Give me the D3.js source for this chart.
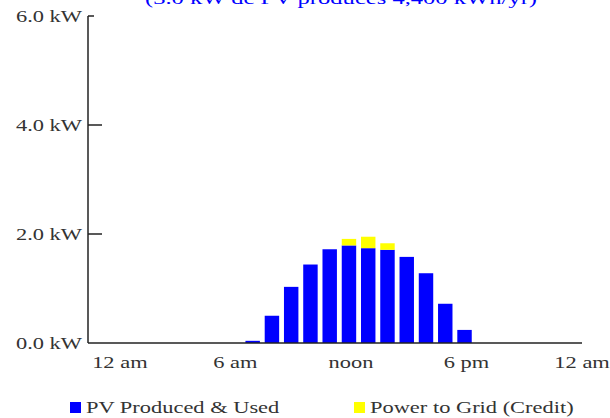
<!DOCTYPE html>
<html>
<head>
<meta charset="utf-8">
<script src="https://cdn.jsdelivr.net/npm/d3@7"></script>
<style>
    html, body { margin: 0; padding: 0; background: #fff; }
    svg { display: block; }
</style>
</head>
<body>
<div id="chart"></div>
<script>
// Hourly PV output, summer day

const hours = [7, 8, 9, 10, 11, 12, 13, 14, 15, 16, 17, 18];
const pvUsed = [0.04, 0.50, 1.03, 1.44, 1.72, 1.79, 1.74, 1.71, 1.58, 1.28, 0.72, 0.24];
const toGrid = [0, 0, 0, 0, 0, 0.12, 0.21, 0.12, 0, 0, 0, 0];

const yTicks = [0, 2, 4, 6];
const yTickLabels = ['0.0 kW', '2.0 kW', '4.0 kW', '6.0 kW'];
const xTicks = [0, 6, 12, 18, 24];
const xTickLabels = ['12 am', '6 am', 'noon', '6 pm', '12 am'];

const seriesNames = ['PV Produced & Used', 'Power to Grid (Credit)'];
const seriesColors = ['#0000ff', '#ffff00'];

const titleText = '(3.0 kW dc PV produces 4,400 kWh/yr)';

const width = 610;
const height = 418;
const stretch = 1.32; // the original text is drawn wide
const FONT = '"Liberation Serif", "Times New Roman", "DejaVu Serif", serif';

const svg = d3.select('#chart')
    .append('svg')
    .attr('width', width)
    .attr('height', height)
    .attr('font-family', FONT);

const x = d3.scaleLinear().domain([-1.55, 24.1]).range([88, 582]);
const y = d3.scaleLinear().domain([0, 6]).range([343, 16]);

const barW = x(0.75) - x(0);

// Title, mostly clipped off the top of the picture
svg.append('text')
    .attr('x', 145)
    .attr('y', 4)
    .attr('textLength', 392)
    .attr('lengthAdjust', 'spacingAndGlyphs')
    .attr('font-family', FONT)
    .attr('font-size', '17px')
    .attr('fill', '#0000ff')
    .text(titleText);

// Bars
const bars = svg.append('g');
bars.selectAll('rect.used')
    .data(hours)
    .join('rect')
    .attr('class', 'used')
    .attr('x', (d) => x(d) - barW / 2)
    .attr('width', barW)
    .attr('y', (d, i) => y(pvUsed[i]))
    .attr('height', (d, i) => y(0) - y(pvUsed[i]))
    .attr('fill', seriesColors[0]);

bars.selectAll('rect.grid')
    .data(hours.filter((d, i) => toGrid[i] > 0))
    .join('rect')
    .attr('class', 'grid')
    .attr('x', (d) => x(d) - barW / 2)
    .attr('width', barW)
    .attr('y', (d) => {
        const i = hours.indexOf(d);
        return y(pvUsed[i] + toGrid[i]);
    })
    .attr('height', (d) => {
        const i = hours.indexOf(d);
        return y(pvUsed[i]) - y(pvUsed[i] + toGrid[i]);
    })
    .attr('fill', seriesColors[1]);

// Axes
const axisColor = '#222';
svg.append('line')
    .attr('x1', x.range()[0]).attr('x2', x.range()[0])
    .attr('y1', y(6)).attr('y2', y(0))
    .attr('stroke', axisColor).attr('stroke-width', 1.5);
svg.append('line')
    .attr('x1', x.range()[0]).attr('x2', x.range()[1])
    .attr('y1', y(0)).attr('y2', y(0))
    .attr('stroke', axisColor).attr('stroke-width', 1.5);

// Y ticks (inward), shorter at the top
svg.append('g')
    .selectAll('line')
    .data(yTicks.filter((d) => d > 0))
    .join('line')
    .attr('x1', x.range()[0])
    .attr('x2', (d) => x.range()[0] + (d === 6 ? 6 : 14))
    .attr('y1', (d) => y(d))
    .attr('y2', (d) => y(d))
    .attr('stroke', axisColor)
    .attr('stroke-width', 1.5);

svg.append('g')
    .selectAll('text')
    .data(yTicks)
    .join('text')
    .attr('transform', (d) => `translate(82,${y(d)}) scale(${stretch},1)`)
    .attr('dy', '0.36em')
    .attr('text-anchor', 'end')
    .attr('font-family', FONT)
    .attr('font-size', '17px')
    .attr('fill', '#333')
    .text((d, i) => yTickLabels[i]);

svg.append('g')
    .selectAll('text')
    .data(xTicks)
    .join('text')
    .attr('transform', (d) => `translate(${x(d) + 2},368) scale(${stretch},1)`)
    .attr('text-anchor', 'middle')
    .attr('font-family', FONT)
    .attr('font-size', '17px')
    .attr('fill', '#333')
    .text((d, i) => xTickLabels[i]);

// Legend
const legendX = [70, 354];
const legend = svg.append('g')
    .selectAll('g')
    .data(seriesNames)
    .join('g')
    .attr('transform', (d, i) => `translate(${legendX[i]},402)`);

legend.append('rect')
    .attr('width', 11)
    .attr('height', 11)
    .attr('fill', (d, i) => seriesColors[i]);

legend.append('text')
    .attr('transform', `translate(16,11) scale(${stretch},1)`)
    .attr('font-family', FONT)
    .attr('font-size', '17px')
    .attr('fill', '#333')
    .text((d) => d);
</script>
</body>
</html>
